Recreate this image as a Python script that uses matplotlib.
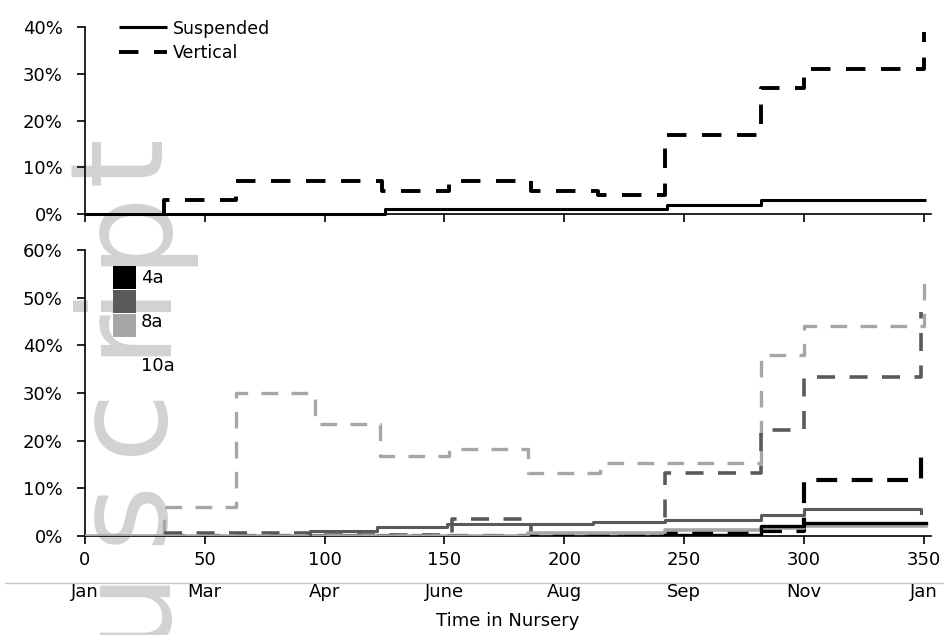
import matplotlib
matplotlib.use("Agg")
import matplotlib.pyplot as plt
from matplotlib.lines import Line2D
from matplotlib.patches import Rectangle

plt.rcParams['font.family'] = ['DejaVu Sans']

# ---------------- data (percent) ----------------
tick_days = [0, 50, 100, 150, 200, 250, 300, 350]
tick_months = ['Jan', 'Mar', 'Apr', 'June', 'Aug', 'Sep', 'Nov', 'Jan']

top_susp_x = [0, 125, 243, 282, 351]
top_susp_y = [0, 1, 2, 3, 3]
top_vert_x = [33, 33, 63, 124, 152, 186, 214, 242, 282, 300, 350]
top_vert_y = [0, 3, 7, 5, 7, 5, 4, 17, 27, 31, 39]

b4_susp_x = [242, 282, 300, 351]
b4_susp_y = [0.3, 2.1, 2.7, 2.7]
b8_susp_x = [94, 94, 122, 151, 212, 242, 282, 300, 349]
b8_susp_y = [0, 1.0, 1.9, 2.5, 2.9, 3.3, 4.4, 5.6, 4.9]
b10_susp_x = [0, 185, 242, 282, 300, 351]
b10_susp_y = [0, 0.6, 1.3, 1.7, 2.0, 2.0]

b4_vert_x = [33, 242, 282, 300, 349]
b4_vert_y = [0, 0.6, 1.0, 11.7, 17.6]
b8_vert_x = [33, 95, 153, 186, 242, 282, 300, 349]
b8_vert_y = [0.7, 0.3, 3.6, 0.3, 13.2, 22.2, 33.3, 47]
b10_vert_x = [33, 33, 63, 96, 123, 152, 185, 215, 282, 300, 350]
b10_vert_y = [0, 6.1, 30, 23.5, 16.8, 18.3, 13.3, 15.3, 38, 44, 54]

legend_top = ['Suspended', 'Vertical']
legend_bottom = ['4a', '8a', '10a']

# page watermark letters (left margin of the manuscript page)
watermark_letters = list('uscript')

# ---------------- styling ----------------
W, H = 945, 635
fig = plt.figure(figsize=(W / 100, H / 100), dpi=100)

def fx(px):
    return px / W

def fy(py):
    return 1 - py / H

BLACK = '#000000'
DARK = '#5a5a5a'
LIGHT = '#a6a6a6'
FS = 13

# watermark (behind everything)
wm_centers = [603, 512, 420, 330, 293, 225, 160]
for ch, cy in zip(watermark_letters, wm_centers):
    fig.text(fx(160), fy(cy), ch, rotation=90, rotation_mode='anchor',
             ha='center', va='baseline', fontsize=92, color='#d2d2d2', zorder=-5)
fig.add_artist(Line2D([fx(5), fx(945)], [fy(583), fy(583)],
                      transform=fig.transFigure, color='#c8c8c8', lw=1, zorder=-5))

x_left, x_right = 85, 85 + 353 * 2.396
ax1 = fig.add_axes([fx(x_left), fy(214), fx(x_right) - fx(x_left), fy(27) - fy(214)])
ax2 = fig.add_axes([fx(x_left), fy(536), fx(x_right) - fx(x_left), fy(250) - fy(536)])

for ax in (ax1, ax2):
    ax.set_facecolor('none')
    ax.set_xlim(0, 353)
    ax.spines['top'].set_visible(False)
    ax.spines['right'].set_visible(False)
    ax.spines['left'].set_linewidth(1.2)
    ax.spines['bottom'].set_linewidth(1.2)
    ax.set_xticks(tick_days)
    ax.tick_params(axis='both', direction='out', length=6, width=1.2,
                   labelsize=FS, colors=BLACK)
    ax.tick_params(axis='y', pad=10)

# top panel
ax1.set_ylim(0, 40)
ax1.set_yticks([0, 10, 20, 30, 40])
ax1.set_yticklabels([f'{v}%' for v in [0, 10, 20, 30, 40]])
ax1.set_xticklabels([])
l1, = ax1.plot(top_susp_x, top_susp_y, drawstyle='steps-post', color=BLACK, lw=2.2,
               solid_capstyle='butt', clip_on=False)
l2, = ax1.plot(top_vert_x, top_vert_y, drawstyle='steps-post', color=BLACK, lw=2.8,
               dashes=(5, 4), clip_on=False)
ax1.legend([l1, l2], legend_top, loc='upper left', bbox_to_anchor=(0.04, 1.04),
           frameon=False, fontsize=12.5, handlelength=2.8, handletextpad=0.3,
           labelspacing=0.35, borderpad=0, borderaxespad=0)

# bottom panel
ax2.set_ylim(0, 60)
ax2.set_yticks([0, 10, 20, 30, 40, 50, 60])
ax2.set_yticklabels([f'{v}%' for v in [0, 10, 20, 30, 40, 50, 60]])
ax2.set_xticklabels([f'{d}\n{m}' for d, m in zip(tick_days, tick_months)],
                    linespacing=2.0)
ax2.tick_params(axis='x', pad=5)

ax2.plot(b10_susp_x, b10_susp_y, drawstyle='steps-post', color=LIGHT, lw=2.6, zorder=3)
ax2.plot(b4_susp_x, b4_susp_y, drawstyle='steps-post', color=BLACK, lw=2.4, zorder=3)
ax2.plot(b8_susp_x, b8_susp_y, drawstyle='steps-post', color=DARK, lw=2.2, zorder=3)
ax2.plot(b10_vert_x, b10_vert_y, drawstyle='steps-post', color=LIGHT, lw=2.4,
         dashes=(5, 4), zorder=2)
ax2.plot(b8_vert_x, b8_vert_y, drawstyle='steps-post', color=DARK, lw=2.6,
         dashes=(5, 4), zorder=2)
ax2.plot(b4_vert_x, b4_vert_y, drawstyle='steps-post', color=BLACK, lw=3.0,
         dashes=(5, 3.5), zorder=2)

ax2.set_xlabel('Time in Nursery', fontsize=FS, labelpad=8)

# bottom legend (Excel-style, keys and labels offset)
key_colors = [BLACK, DARK, LIGHT]
key_tops = [266, 290, 314]
label_y = [278, 322, 366]
for c, t, ly, lab in zip(key_colors, key_tops, label_y, legend_bottom):
    fig.add_artist(Rectangle((fx(113), fy(t + 23)), fx(136) - fx(113), fy(t) - fy(t + 23),
                             transform=fig.transFigure, facecolor=c, edgecolor='none'))
    fig.text(fx(141), fy(ly), lab, fontsize=FS, va='center', ha='left')

fig.savefig('out.png', dpi=100)
